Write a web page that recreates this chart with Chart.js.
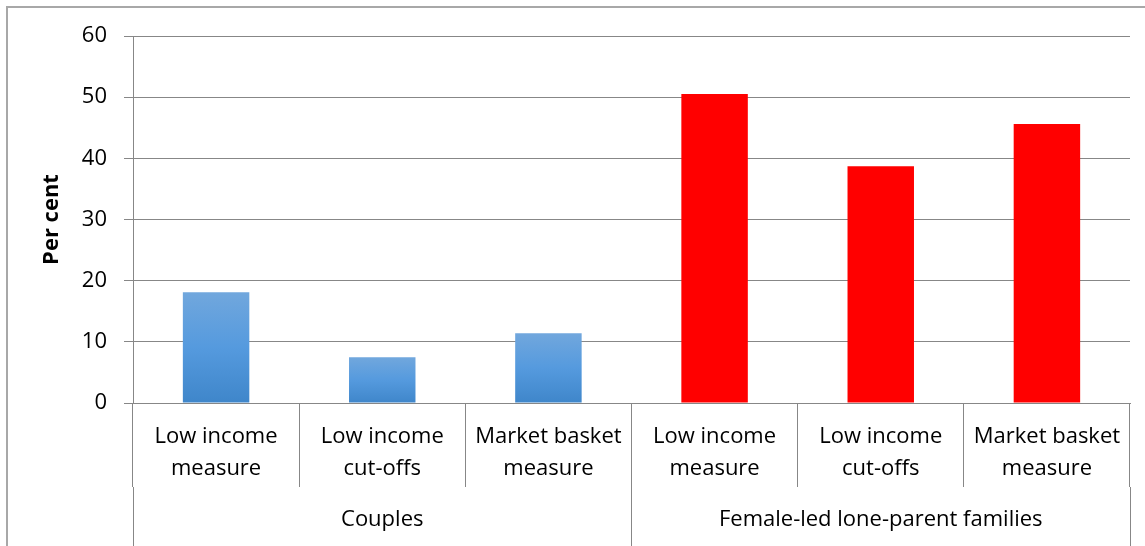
<!DOCTYPE html>
<html lang="en">
<head>
    <meta charset="UTF-8">
    <title>Per cent by measure</title>
    <script src="https://cdn.jsdelivr.net/npm/chart.js"></script>
    <style>
        body {
            margin: 0;
            overflow: hidden;
            background: #fff;
        }
        #frame {
            position: absolute;
            left: 6px;
            top: 6px;
            width: 1200px;
            height: 600px;
            border-left: 2px solid #a8a8a8;
            border-top: 2px solid #a8a8a8;
            pointer-events: none;
        }
        #barChart {
            position: absolute;
            left: 0;
            top: 0;
        }
    </style>
</head>
<body>
    <canvas id="barChart" width="1145" height="546"></canvas>
    <div id="frame"></div>

    <script>
        // Datos
        const categories = [
            ['Low income', 'measure'], ['Low income', 'cut-offs'], ['Market basket', 'measure'],
            ['Low income', 'measure'], ['Low income', 'cut-offs'], ['Market basket', 'measure']
        ];
        const groups = ['Couples', 'Female-led lone-parent families'];
        const values = [18.1, 7.5, 11.4, 50.5, 38.7, 45.6];
        const yTicks = [0, 10, 20, 30, 40, 50, 60];

        const fontFamily = "'Open Sans', sans-serif";
        const gridColor = '#878787';

        // couples in blue gradient, lone-parent families in red
        function barColor(ctx) {
            if (ctx.dataIndex >= 3) return '#ff0000';
            const chart = ctx.chart;
            if (!chart.chartArea) return '#5599db';
            const y = chart.scales.y;
            const top = y.getPixelForValue(ctx.raw);
            const bottom = y.getPixelForValue(0);
            const g = chart.ctx.createLinearGradient(0, top, 0, bottom);
            g.addColorStop(0, '#71a7dd');
            g.addColorStop(0.5, '#559ade');
            g.addColorStop(1, '#3f86ca');
            return g;
        }

        new Chart(document.getElementById('barChart'), {
            type: 'bar',
            data: {
                labels: categories,
                datasets: [{
                    data: values,
                    backgroundColor: barColor,
                    barPercentage: 0.4,
                    categoryPercentage: 1.0
                }]
            },
            options: {
                responsive: false,
                animation: false,
                layout: { padding: { left: 8, right: 15, top: 36, bottom: 0 } },
                plugins: {
                    legend: { display: false },
                    tooltip: { enabled: false }
                },
                scales: {
                    x: {
                        grid: {
                            offset: true,
                            drawOnChartArea: false,
                            tickLength: 84,
                            color: gridColor
                        },
                        border: { color: gridColor },
                        ticks: {
                            color: '#000',
                            padding: -66,
                            maxRotation: 0,
                            autoSkip: false,
                            font: { family: fontFamily, size: 22, lineHeight: 1.45 }
                        },
                        afterFit: (scale) => { scale.height = 84; }
                    },
                    x2: {
                        type: 'category',
                        position: 'bottom',
                        labels: groups,
                        grid: {
                            offset: true,
                            drawOnChartArea: false,
                            tickLength: 70,
                            color: gridColor
                        },
                        border: { display: false },
                        ticks: {
                            color: '#000',
                            padding: -53,
                            maxRotation: 0,
                            font: { family: fontFamily, size: 22, lineHeight: 1.45 }
                        },
                        afterFit: (scale) => { scale.height = 59; }
                    },
                    y: {
                        min: 0,
                        max: 60,
                        afterBuildTicks: (scale) => {
                            scale.ticks = yTicks.map(v => ({ value: v }));
                        },
                        grid: {
                            color: gridColor,
                            tickLength: 9
                        },
                        border: { color: gridColor },
                        ticks: {
                            color: '#000',
                            padding: 17,
                            font: { family: fontFamily, size: 22 }
                        },
                        title: {
                            display: true,
                            text: 'Per cent',
                            color: '#000',
                            padding: { top: 31, bottom: 0 },
                            font: { family: fontFamily, size: 22, weight: 'bold', lineHeight: 1.2 }
                        },
                        afterFit: (scale) => { scale.width = 125; }
                    }
                }
            }
        });
    </script>
</body>
</html>
